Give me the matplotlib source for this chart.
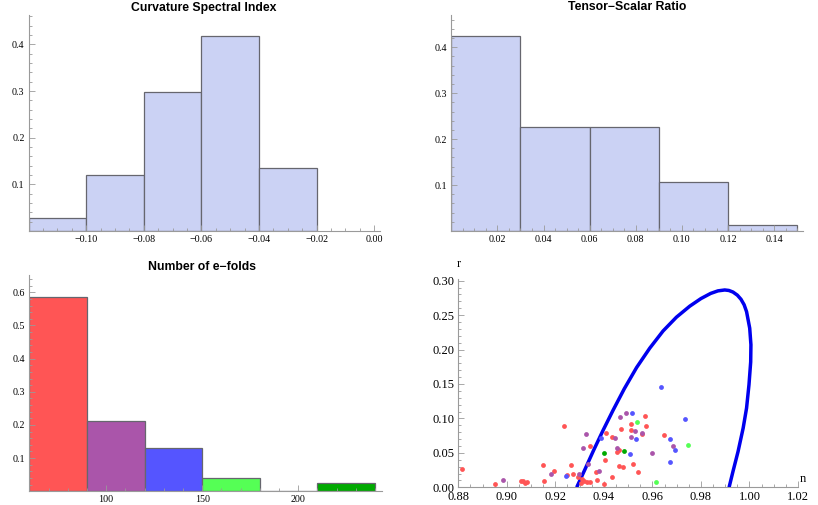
import matplotlib
matplotlib.use("Agg")
import matplotlib.pyplot as plt
from matplotlib.ticker import MultipleLocator, FixedLocator, FuncFormatter

# ---------------- data ----------------
ns_edges = [-0.12, -0.10, -0.08, -0.06, -0.04, -0.02]
ns_probs = [0.027, 0.121, 0.297, 0.419, 0.134]

r_edges = [0.0, 0.03, 0.06, 0.09, 0.12, 0.15]
r_probs = [0.425, 0.226, 0.226, 0.106, 0.013]

N_edges = [60, 90, 120, 150, 180, 210, 240]
N_probs = [0.586, 0.212, 0.132, 0.039, 0.0, 0.025]
N_colors = ["#FF5555", "#AA55AA", "#5555FF", "#55FF55", "#55FF55", "#00AA00"]

red_n = [0.8815, 0.8950, 0.9058, 0.9065, 0.9075, 0.9084, 0.9149, 0.9152, 0.9193,
         0.9235, 0.9407, 0.9432, 0.9568, 0.9510, 0.9572, 0.9470, 0.9510, 0.9558,
         0.9646, 0.9341, 0.9452, 0.9463, 0.9403, 0.9265, 0.9461, 0.9480, 0.9518,
         0.9539, 0.9367, 0.9274, 0.9249, 0.9292, 0.9434, 0.9308, 0.9371, 0.9318,
         0.9329, 0.9342, 0.9305, 0.9400]
red_r = [0.0270, 0.0048, 0.0096, 0.0088, 0.0067, 0.0079, 0.0324, 0.0087, 0.0232,
         0.0895, 0.0784, 0.0730, 0.1040, 0.0924, 0.0895, 0.0851, 0.0837, 0.0774,
         0.0764, 0.0604, 0.0517, 0.0537, 0.0396, 0.0328, 0.0305, 0.0295, 0.0334,
         0.0218, 0.0218, 0.0198, 0.0179, 0.0154, 0.0154, 0.0121, 0.0106, 0.0085,
         0.0077, 0.0077, 0.0058, 0.0048]

purple_n = [0.9326, 0.9445, 0.9465, 0.9491, 0.9530, 0.9556, 0.9511, 0.9685,
            0.9313, 0.9456, 0.9598, 0.9335, 0.9378, 0.9297, 0.8984, 0.9180]
purple_r = [0.0778, 0.0720, 0.1025, 0.1083, 0.0822, 0.0793, 0.0735, 0.0600,
            0.0566, 0.0575, 0.0494, 0.0343, 0.0237, 0.0198, 0.0110, 0.0198]

blue_n = [0.9390, 0.9514, 0.9532, 0.9636, 0.9734, 0.9671, 0.9695, 0.9507, 0.9671, 0.9243]
blue_r = [0.0716, 0.1074, 0.0706, 0.1461, 0.0987, 0.0697, 0.0546, 0.0488, 0.0372, 0.0160]

lgreen_n = [0.9537, 0.9747, 0.9613]
lgreen_r = [0.0953, 0.0614, 0.0081]

dgreen_n = [0.9399, 0.9484]
dgreen_r = [0.0494, 0.0523]

contour_n = [0.9288, 0.9322, 0.9358, 0.9397, 0.9438, 0.9484, 0.9535, 0.9589, 0.9644,
             0.9699, 0.9754, 0.9800, 0.9840, 0.9870, 0.9898, 0.9915, 0.9932, 0.9950,
             0.9965, 0.9978, 0.9988, 1.0001, 1.0006, 1.0005, 0.9998, 0.9988, 0.9974,
             0.9953, 0.9932, 0.9916]
contour_r = [0.000, 0.026, 0.054, 0.083, 0.112, 0.143, 0.174, 0.202, 0.227,
             0.247, 0.263, 0.274, 0.2815, 0.2852, 0.2865, 0.2858, 0.2835, 0.279,
             0.273, 0.265, 0.255, 0.231, 0.207, 0.182, 0.149, 0.115, 0.086,
             0.052, 0.023, 0.000]

titles = ["Curvature Spectral Index", "Tensor\u2212Scalar Ratio", "Number of e\u2212folds"]

# ---------------- style ----------------
SERIF = "Liberation Serif"
SANS = "Liberation Sans"
AXCOL = "#9a9a9a"
HIST_FILL = "#CBD2F4"
HIST_EDGE = "#66666E"

W, H = 818, 505
fig = plt.figure(figsize=(W / 100, H / 100), dpi=100)


def box(l, t, r, b):
    return [l / W, 1 - b / H, (r - l) / W, (b - t) / H]


def style(ax, fs):
    for s in ("top", "right"):
        ax.spines[s].set_visible(False)
    for s in ("left", "bottom"):
        ax.spines[s].set_color(AXCOL)
        ax.spines[s].set_linewidth(0.8)
    ax.tick_params(which="both", direction="in", color=AXCOL, width=0.6,
                   labelsize=fs, pad=3)
    ax.tick_params(which="major", length=4)
    ax.tick_params(which="minor", length=2)
    for lab in ax.get_xticklabels() + ax.get_yticklabels():
        lab.set_fontfamily(SERIF)
    ax.patch.set_alpha(0)


def fmt(dec):
    def f(v, pos):
        s = f"{v:.{dec}f}"
        return s.replace("-", "\u2212")
    return FuncFormatter(f)


def hist(ax, edges, probs, colors):
    widths = [edges[i + 1] - edges[i] for i in range(len(probs))]
    ax.bar(edges[:-1], probs, width=widths, align="edge", color=colors,
           edgecolor=HIST_EDGE, linewidth=0.9)


HFS = 7.2

# top-left
ax1 = fig.add_axes(box(28.7, 15, 380, 231))
hist(ax1, ns_edges, ns_probs, HIST_FILL)
ax1.set_xlim(-0.12, 0.002)
ax1.set_ylim(0, 0.463)
ax1.xaxis.set_major_locator(FixedLocator([-0.10, -0.08, -0.06, -0.04, -0.02, 0.0]))
ax1.xaxis.set_minor_locator(MultipleLocator(0.005))
ax1.xaxis.set_major_formatter(fmt(2))
ax1.yaxis.set_major_locator(FixedLocator([0.1, 0.2, 0.3, 0.4]))
ax1.yaxis.set_minor_locator(MultipleLocator(0.02))
ax1.yaxis.set_major_formatter(fmt(1))
style(ax1, HFS)

# top-right
ax2 = fig.add_axes(box(451.3, 15, 803, 231))
hist(ax2, r_edges, r_probs, HIST_FILL)
ax2.set_xlim(0, 0.1525)
ax2.set_ylim(0, 0.47)
ax2.xaxis.set_major_locator(FixedLocator([0.02, 0.04, 0.06, 0.08, 0.10, 0.12, 0.14]))
ax2.xaxis.set_minor_locator(MultipleLocator(0.005))
ax2.xaxis.set_major_formatter(fmt(2))
ax2.yaxis.set_major_locator(FixedLocator([0.1, 0.2, 0.3, 0.4]))
ax2.yaxis.set_minor_locator(MultipleLocator(0.02))
ax2.yaxis.set_major_formatter(fmt(1))
style(ax2, HFS)

# bottom-left
ax3 = fig.add_axes(box(29.3, 275, 381.7, 491.3))
hist(ax3, N_edges, N_probs, N_colors)
ax3.set_xlim(60, 243.5)
ax3.set_ylim(0, 0.652)
ax3.xaxis.set_major_locator(FixedLocator([100, 150, 200]))
ax3.xaxis.set_minor_locator(MultipleLocator(10))
ax3.yaxis.set_major_locator(FixedLocator([0.1, 0.2, 0.3, 0.4, 0.5, 0.6]))
ax3.yaxis.set_minor_locator(MultipleLocator(0.02))
ax3.yaxis.set_major_formatter(fmt(1))
style(ax3, HFS)

# bottom-right scatter
ax4 = fig.add_axes(box(458.3, 279.3, 798, 487.3))
ax4.plot(contour_n, contour_r, color="#0000EE", linewidth=2.5,
         solid_joinstyle="round", solid_capstyle="butt", zorder=3)
pts = [(red_n, red_r, "#FF5555"), (purple_n, purple_r, "#AA55AA"),
       (blue_n, blue_r, "#5555FF"), (lgreen_n, lgreen_r, "#55FF55"),
       (dgreen_n, dgreen_r, "#00AA00")]
for xs, ys, c in pts:
    ax4.scatter(xs, ys, s=12, color=c, linewidths=0, zorder=4, clip_on=False)
ax4.set_xlim(0.88, 1.02)
ax4.set_ylim(0, 0.302)
ax4.xaxis.set_major_locator(MultipleLocator(0.02))
ax4.xaxis.set_minor_locator(MultipleLocator(0.005))
ax4.xaxis.set_major_formatter(fmt(2))
ax4.yaxis.set_major_locator(MultipleLocator(0.05))
ax4.yaxis.set_minor_locator(MultipleLocator(0.01))
ax4.yaxis.set_major_formatter(fmt(2))
style(ax4, 9)

# titles and labels
fig.text(204 / W, 1 - 7.5 / H, titles[0], ha="center", va="center",
         fontsize=8.8, fontweight="bold", family=SANS)
fig.text(627 / W, 1 - 7.5 / H, titles[1], ha="center", va="center",
         fontsize=8.8, fontweight="bold", family=SANS)
fig.text(201.7 / W, 1 - 266.7 / H, titles[2], ha="center", va="center",
         fontsize=8.8, fontweight="bold", family=SANS)
fig.text(459 / W, 1 - 264 / H, "r", ha="center", va="center",
         fontsize=9, family=SERIF)
fig.text(803 / W, 1 - 479 / H, "n", ha="center", va="center",
         fontsize=9, family=SERIF)

fig.savefig("out.png", dpi=100)
